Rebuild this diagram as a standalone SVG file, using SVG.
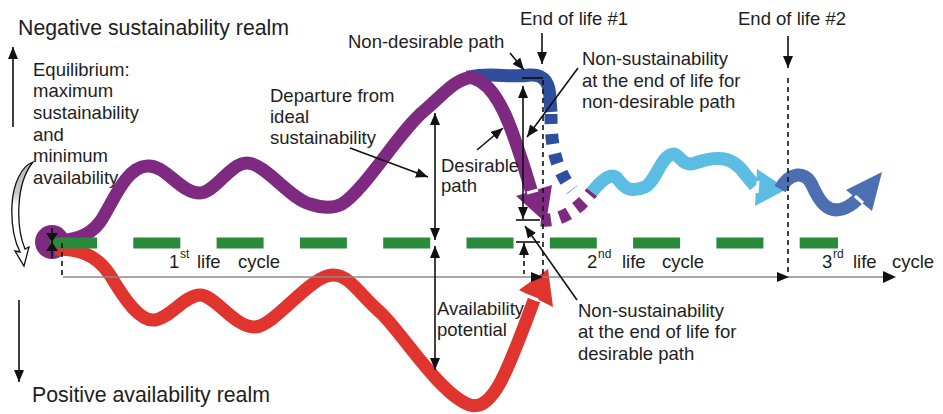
<svg xmlns="http://www.w3.org/2000/svg" width="943" height="414" viewBox="0 0 943 414">
<style>
text{font-family:"Liberation Sans",Arial,sans-serif;fill:#1e1e1e;font-size:18.5px}
.big{font-size:21.3px}
.sup{font-size:12px}
.ln{stroke:#111;stroke-width:1.6;fill:none}
.dash{stroke:#111;stroke-width:1.6;fill:none;stroke-dasharray:5 4}
.curve{fill:none;stroke-width:13;stroke-linejoin:round}
.notch{stroke:#fff;stroke-width:3}
</style>
<defs>
<marker id="ah" viewBox="0 0 12 10" refX="12" refY="5" markerWidth="12" markerHeight="10" markerUnits="userSpaceOnUse" orient="auto-start-reverse">
<path d="M0,0 L12,5 L0,10 z" fill="#111"/>
</marker>
<linearGradient id="gg" x1="0" y1="0" x2="0" y2="1">
<stop offset="0" stop-color="#b4b8bc"/>
<stop offset="0.3" stop-color="#c8cbce"/>
<stop offset="0.42" stop-color="#fff"/>
<stop offset="1" stop-color="#fff"/>
</linearGradient>
</defs>

<g id="realm-negative">
<text class="big" x="18" y="35">Negative sustainability realm</text>
<line class="ln" x1="13" y1="127" x2="13" y2="47" marker-end="url(#ah)"/>
</g>
<g id="realm-positive">
<text class="big" x="32" y="402">Positive availability realm</text>
<line class="ln" x1="19" y1="300" x2="19" y2="382" marker-end="url(#ah)"/>
</g>

<g id="equilibrium-label">
<text x="33" y="76">Equilibrium:</text>
<text x="33" y="97">maximum</text>
<text x="33" y="119">sustainability</text>
<text x="33" y="141">and</text>
<text x="33" y="162">minimum</text>
<text x="33" y="184">availability</text>
<path d="M33,162 C22,166 13,183 12,205 C11,226 15,242 20,252 L15,251 L24,266 L29,247 L25,249 C20,237 18,222 19,205 C20,186 25,172 33,162 Z" fill="url(#gg)" stroke="#111" stroke-width="1.3"/>
</g>

<g id="equilibrium-point">
<circle cx="52" cy="242" r="17" fill="#7d2a80"/>
</g>

<g id="path-purple">
<path class="curve" stroke="#7d2a80" d="M52,242 C72,240 88,238 100,222 C112,205 125,167 147,166 C165,164 180,193 200,193 C215,193 230,163 247,163 C265,163 290,199 310,204 C322,208 332,209 342,204 C365,190 400,130 425,110 C443,95 455,78 474,77"/>
</g>

<g id="path-red">
<path class="curve" stroke="#e0352e" d="M55,249 C75,249 95,252 110,275 C125,300 140,322 155,320 C170,318 185,295 200,295 C215,295 235,328 255,327 C275,326 310,275 333,275 C350,275 360,295 380,312 C400,330 440,395 470,405 C493,412 508,370 534,300"/>
<polygon points="519,290 553,307 548,269" fill="#e0352e"/>
<line class="notch" x1="528" y1="296" x2="538" y2="300"/>
</g>

<g id="life-cycles">
<line x1="50" y1="243" x2="838" y2="243" stroke="#2a8a3c" stroke-width="11" stroke-dasharray="47 36.3"/>
<text x="169" y="268">1</text><text class="sup" x="180" y="258">st</text><text x="197" y="268">life</text><text x="238" y="268">cycle</text>
<text x="587" y="268">2</text><text class="sup" x="598" y="258">nd</text><text x="622" y="268">life</text><text x="662" y="268">cycle</text>
<text x="822" y="268">3</text><text class="sup" x="833" y="258">rd</text><text x="853" y="268">life</text><text x="892" y="268">cycle</text>
</g>

<g id="path-nondesirable">
<path class="curve" stroke="#2f4e9e" d="M470,77 C490,72 510,78 530,75 C545,74 550,84 550,100 L551,112"/>
<path class="curve" stroke="#2f4e9e" stroke-width="11" stroke-dasharray="10 10" d="M551,114 C551,140 553,165 572,190"/>
</g>

<g id="path-desirable">
<path class="curve" stroke="#7d2a80" d="M466,77 C490,77 505,110 515,140 C522,160 527,176 532,193"/>
<polygon points="516,196 552,185 546,223" fill="#7d2a80"/>
<line class="notch" x1="527" y1="193" x2="538" y2="190"/>
<path class="curve" stroke="#7d2a80" stroke-width="11" stroke-dasharray="10 9" d="M541,220 C560,222 578,210 592,192"/>
</g>

<g id="path-second">
<path class="curve" stroke="#5bbde3" d="M592,192 C600,182 610,172 617,178 C624,188 630,193 645,187 C655,182 660,160 670,155 C680,150 680,168 695,163 C715,156 732,155 745,174 L755,186"/>
<polygon points="757,169 755,206 787,189" fill="#5bbde3"/>
<line class="notch" x1="758" y1="181" x2="757" y2="193"/>
</g>

<g id="path-third">
<path class="curve" stroke="#4b6fb0" d="M780,189 C790,172 805,170 812,185 C820,203 828,213 842,209 C852,206 855,201 860,197"/>
<polygon points="846,190 872,211 882,172" fill="#4b6fb0"/>
<line class="notch" x1="855" y1="196" x2="863" y2="203"/>
</g>

<g id="axis">
<line x1="63" y1="277" x2="890" y2="277" stroke="#8a8a8a" stroke-width="1.6"/>
<polygon points="531,272 543,277 531,282" fill="#111"/>
<polygon points="777,272 789,277 777,282" fill="#111"/>
<polygon points="883,271 896,277 883,283" fill="#111"/>
</g>

<g id="end-of-life-1">
<text x="520" y="25">End of life #1</text>
<line class="ln" x1="542" y1="33" x2="542" y2="64" marker-end="url(#ah)"/>
</g>
<g id="end-of-life-2">
<text x="738" y="25">End of life #2</text>
<line class="ln" x1="788" y1="36" x2="788" y2="68" marker-end="url(#ah)"/>
</g>

<g id="label-nondesirable">
<text x="348" y="48">Non-desirable path</text>
</g>
<g id="label-nonsust-upper">
<text x="582" y="65">Non-sustainability</text>
<text x="582" y="87">at the end of life for</text>
<text x="582" y="108">non-desirable path</text>
</g>
<g id="label-departure">
<text x="270" y="102">Departure from</text>
<text x="270" y="123">ideal</text>
<text x="270" y="144">sustainability</text>
</g>
<g id="label-desirable">
<text x="441" y="172">Desirable</text>
<text x="441" y="192">path</text>
</g>
<g id="label-availability">
<text x="437" y="315">Availability</text>
<text x="437" y="336">potential</text>
</g>
<g id="label-nonsust-lower">
<text x="578" y="317">Non-sustainability</text>
<text x="578" y="338">at the end of life for</text>
<text x="578" y="360">desirable path</text>
</g>

<g id="connectors">
<line class="ln" x1="52" y1="228" x2="52" y2="258"/>
<polygon points="46,233 58,233 52,242" fill="#111"/>
<polygon points="46,251 58,251 52,242" fill="#111"/>
<line x1="62" y1="243" x2="62" y2="248" stroke="#111" stroke-width="1.6"/>
<line class="dash" x1="62" y1="252" x2="62" y2="277"/>
<line class="ln" x1="435" y1="113" x2="435" y2="240" marker-start="url(#ah)" marker-end="url(#ah)"/>
<line class="ln" x1="435" y1="246" x2="435" y2="370" marker-start="url(#ah)" marker-end="url(#ah)"/>
<line class="ln" x1="523" y1="86" x2="523" y2="219" marker-start="url(#ah)" marker-end="url(#ah)"/>
<line class="ln" x1="516" y1="220" x2="540" y2="220"/>
<line class="ln" x1="516" y1="242" x2="540" y2="242"/>
<line class="ln" x1="524" y1="258" x2="524" y2="243" marker-end="url(#ah)"/>
<line class="dash" x1="524" y1="261" x2="524" y2="274"/>
<path class="ln" d="M522,78 L543,78"/>
<line class="dash" x1="543" y1="80" x2="543" y2="275"/>
<line class="dash" x1="788" y1="78" x2="788" y2="275"/>
<line class="ln" x1="510" y1="53" x2="524" y2="70" marker-end="url(#ah)"/>
<line class="ln" x1="578" y1="68" x2="527" y2="137" marker-end="url(#ah)"/>
<line class="ln" x1="350" y1="148" x2="428" y2="177" marker-end="url(#ah)"/>
<line class="ln" x1="477" y1="150" x2="503" y2="128" marker-end="url(#ah)"/>
<line class="ln" x1="577" y1="300" x2="525" y2="226" marker-end="url(#ah)"/>
</g>
</svg>
